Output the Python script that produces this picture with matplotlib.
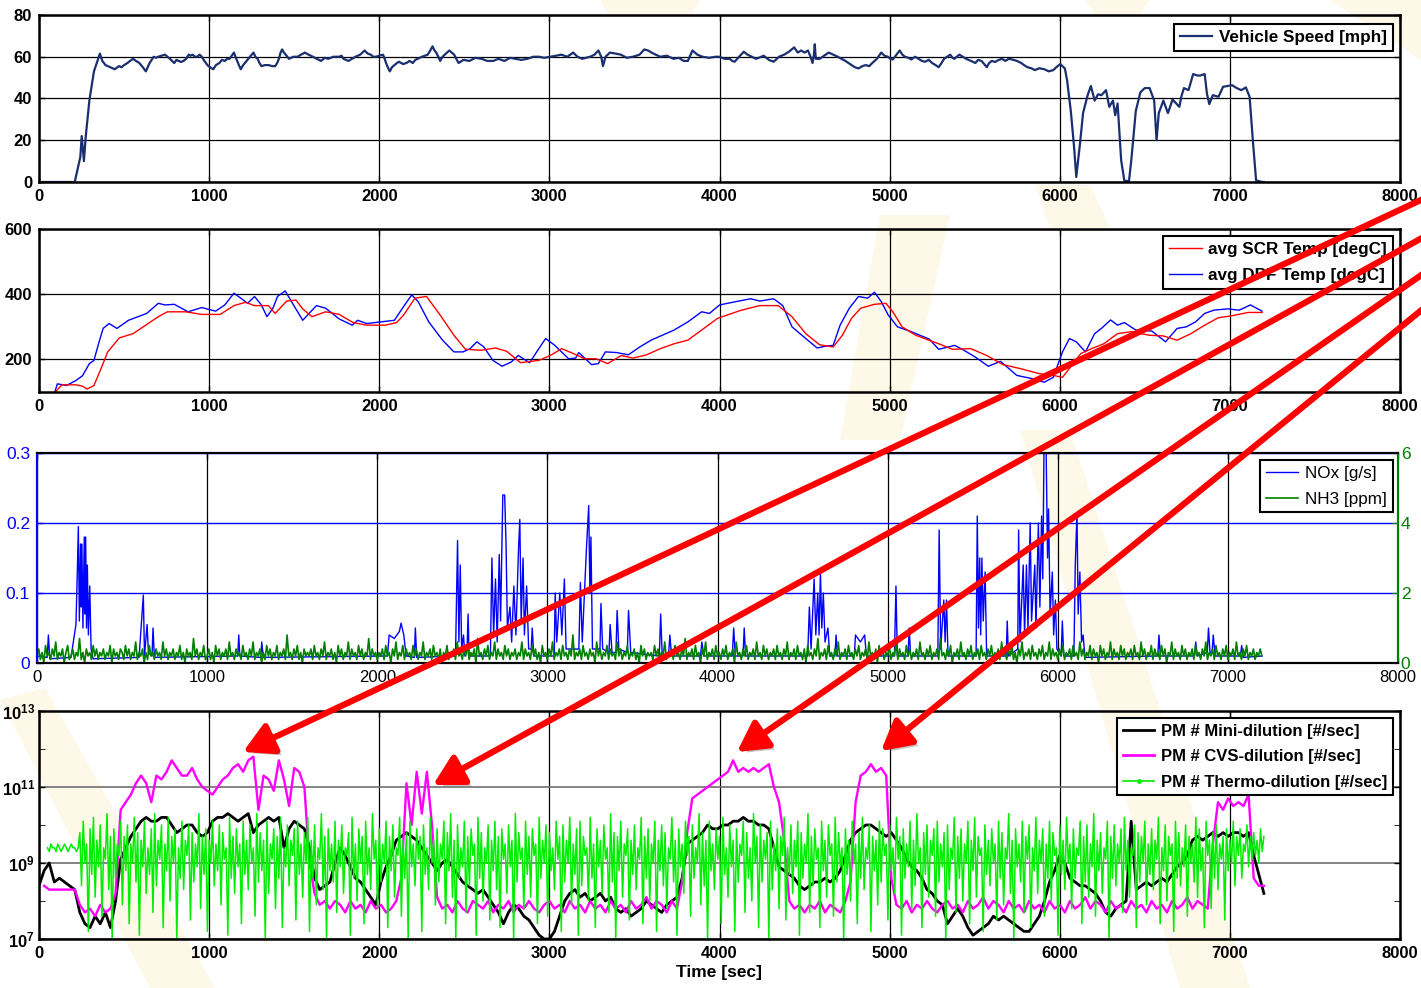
import numpy as np
import matplotlib
matplotlib.use('Agg')
import matplotlib.pyplot as plt
from matplotlib.lines import Line2D
from matplotlib.patches import FancyArrowPatch, Polygon
from matplotlib.ticker import FixedLocator, NullFormatter
import matplotlib.patheffects as pe

plt.rcParams['font.family'] = ['Liberation Sans', 'DejaVu Sans']
plt.rcParams['font.weight'] = 'bold'
plt.rcParams['mathtext.fontset'] = 'custom'
plt.rcParams['mathtext.rm'] = 'Liberation Sans'
plt.rcParams['mathtext.bf'] = 'Liberation Sans:bold'

# ---- data (time [s], value) ----
speed_pts = [(0, 0), (150, 0), (210, 0), (243, 12), (251, 22), (264, 10), (275, 22), (296, 39), (323, 53),
             (358, 61.5), (372, 58), (391, 56), (405, 55.5), (420, 55), (432, 54.5), (445, 54), (470, 55.5),
             (485, 55), (500, 56), (520, 57), (535, 58), (553, 59), (570, 58), (590, 57), (610, 55), (628, 53),
             (650, 57), (674, 60), (688, 59.5), (700, 60), (720, 60.5), (741, 61), (755, 60), (770, 59), (782, 58),
             (795, 57), (808, 58.5), (820, 58), (835, 57.5), (849, 58), (865, 59), (880, 61), (890, 60.5),
             (903, 61), (917, 60), (930, 60), (944, 61), (957, 60), (972, 58), (990, 56), (1005, 55), (1024, 54),
             (1040, 56), (1060, 57), (1075, 58.5), (1092, 58), (1106, 59), (1120, 59), (1133, 60.5), (1146, 62),
             (1155, 60), (1165, 58), (1175, 56), (1186, 54), (1200, 56), (1220, 58), (1240, 60), (1261, 62),
             (1272, 60), (1285, 59), (1296, 57), (1307, 55.5), (1328, 56), (1350, 56), (1370, 55.5), (1388, 55.5),
             (1400, 57), (1410, 59), (1420, 62), (1429, 63.5), (1440, 62), (1450, 61), (1460, 60), (1469, 59),
             (1495, 60), (1520, 60), (1540, 61), (1563, 62), (1585, 61), (1610, 60), (1633, 59), (1658, 58),
             (1680, 59.5), (1700, 59), (1730, 60), (1765, 60), (1778, 60.5), (1790, 59), (1805, 58.5), (1819, 58),
             (1840, 59), (1860, 60), (1888, 61), (1914, 63), (1932, 61.5), (1950, 61), (1965, 60), (1981, 60),
             (2000, 60.5), (2022, 61), (2032, 59), (2040, 57), (2050, 55), (2062, 53), (2075, 55), (2090, 56),
             (2104, 57), (2116, 57.6), (2140, 56.5), (2160, 57), (2178, 58), (2197, 57), (2212, 58.5), (2225, 59),
             (2238, 59.5), (2251, 60), (2268, 60.5), (2285, 61), (2300, 63), (2313, 65), (2325, 63), (2335, 62),
             (2347, 60), (2358, 58), (2372, 60), (2385, 61), (2398, 62), (2412, 63), (2426, 62), (2440, 61),
             (2453, 59), (2466, 57), (2495, 58.5), (2530, 58), (2565, 59.5), (2601, 59), (2635, 58), (2670, 58),
             (2700, 59), (2736, 58), (2770, 59.5), (2800, 59), (2835, 58.5), (2871, 59), (2905, 60), (2940, 60),
             (2970, 59.5), (3005, 60), (3040, 60.5), (3070, 61), (3105, 60), (3140, 62), (3165, 60), (3194, 59),
             (3215, 59.5), (3240, 60), (3265, 61), (3288, 63), (3305, 60), (3315, 55.5), (3330, 60), (3356, 62),
             (3390, 61.5), (3420, 61), (3455, 59.5), (3491, 60), (3530, 61), (3558, 63.5), (3580, 63), (3600, 62),
             (3625, 61), (3652, 60), (3690, 60.5), (3730, 59), (3760, 59.5), (3790, 58), (3814, 58), (3841, 63),
             (3870, 61), (3900, 60), (3940, 59.5), (3976, 60), (4000, 60), (4030, 59), (4060, 59), (4075, 58),
             (4089, 57.6), (4115, 60), (4143, 62.4), (4165, 61), (4190, 60), (4215, 59), (4237, 59.7), (4260, 60.5),
             (4290, 58.5), (4318, 57.6), (4350, 60), (4380, 61), (4410, 62.5), (4439, 64.5), (4460, 62), (4480, 63),
             (4500, 62), (4520, 63), (4535, 60), (4547, 57), (4555, 61), (4560, 66), (4566, 59), (4588, 59),
             (4615, 60.5), (4642, 62), (4668, 61), (4695, 60), (4718, 59), (4740, 58), (4758, 57), (4776, 56),
             (4795, 55), (4817, 54.4), (4840, 55.5), (4860, 56), (4880, 55.5), (4898, 57), (4925, 59), (4951, 62),
             (4970, 60.5), (4990, 60), (5005, 59), (5019, 58.7), (5040, 61), (5059, 63), (5075, 61), (5090, 60),
             (5110, 59.5), (5127, 58.7), (5150, 60), (5170, 59), (5190, 58), (5208, 57.6), (5230, 58.5), (5250, 57),
             (5270, 56), (5288, 55), (5305, 57), (5320, 59), (5338, 60), (5356, 61), (5370, 59.5), (5380, 59),
             (5395, 60), (5410, 61), (5430, 60), (5450, 59), (5478, 58), (5504, 57), (5520, 58.5), (5540, 58),
             (5556, 56.5), (5571, 55), (5585, 57), (5600, 58), (5620, 57.5), (5639, 58.4), (5660, 59), (5680, 58),
             (5700, 59), (5720, 58.7), (5748, 58), (5774, 57), (5790, 56), (5810, 55), (5832, 54.5), (5854, 53.6),
             (5880, 54.5), (5910, 54), (5935, 53), (5962, 53.6), (5980, 55), (6003, 56.5), (6030, 54.4),
             (6043, 48.8), (6065, 34), (6084, 17), (6097, 2.4), (6119, 18.4), (6137, 33), (6164, 41.6), (6183, 46),
             (6205, 39), (6225, 42), (6245, 41.6), (6272, 44), (6291, 36), (6313, 39), (6326, 32), (6340, 37.6),
             (6361, 10.4), (6380, 0.5), (6407, 0.5), (6420, 10), (6447, 34), (6474, 43), (6500, 45), (6528, 45),
             (6555, 39), (6569, 20), (6582, 33), (6609, 39), (6636, 33), (6663, 39.5), (6680, 38), (6703, 36),
             (6715, 41), (6730, 45), (6757, 44), (6784, 51.7), (6810, 51), (6825, 51), (6852, 51.7), (6865, 42.4),
             (6879, 37.3), (6900, 41.6), (6933, 40.8), (6960, 45.6), (7013, 46.4), (7040, 45), (7067, 44),
             (7094, 45.3), (7116, 40.8), (7135, 20), (7154, 0.8), (7189, 0), (7200, 0)]

dpf_pts = [(89, 94), (108, 125), (162, 120), (216, 135), (256, 150), (296, 187), (323, 197), (350, 248),
           (377, 295), (412, 310), (458, 295), (526, 320), (633, 341), (701, 372), (741, 367), (795, 369),
           (876, 346), (957, 359), (1038, 348), (1092, 367), (1146, 403), (1186, 388), (1226, 372), (1267, 393),
           (1307, 367), (1340, 331), (1375, 357), (1402, 393), (1447, 410), (1496, 367), (1550, 320), (1631, 365),
           (1685, 357), (1765, 324), (1841, 305), (1873, 320), (1927, 310), (2008, 315), (2089, 320), (2143, 362),
           (2191, 398), (2229, 377), (2291, 315), (2372, 259), (2439, 223), (2493, 223), (2534, 233), (2574, 254),
           (2615, 238), (2668, 197), (2722, 179), (2776, 192), (2817, 212), (2884, 190), (2938, 233), (2978, 264),
           (3032, 243), (3113, 202), (3154, 204), (3173, 221), (3248, 184), (3288, 187), (3329, 223), (3396, 221),
           (3464, 214), (3531, 238), (3598, 259), (3733, 290), (3814, 315), (3895, 346), (3941, 341), (4000, 367),
           (4075, 375), (4183, 386), (4237, 379), (4318, 386), (4372, 365), (4426, 300), (4507, 264), (4574, 235),
           (4628, 241), (4668, 243), (4709, 305), (4763, 357), (4817, 393), (4871, 388), (4911, 406), (4951, 377),
           (4992, 336), (5046, 300), (5127, 285), (5234, 262), (5288, 231), (5383, 243), (5437, 228), (5504, 207),
           (5580, 179), (5652, 194), (5747, 151), (5828, 142), (5909, 130), (5962, 145), (6016, 223), (6057, 264),
           (6097, 254), (6151, 223), (6205, 279), (6245, 295), (6299, 321), (6340, 305), (6380, 313), (6447, 290),
           (6541, 287), (6622, 254), (6690, 295), (6744, 300), (6798, 315), (6852, 341), (6906, 351), (6987, 355),
           (7054, 351), (7121, 367), (7189, 348)]

scr_pts = [(94, 99), (135, 122), (216, 122), (256, 118), (283, 109), (323, 120), (364, 171), (404, 223),
           (472, 266), (553, 279), (633, 307), (701, 331), (755, 346), (862, 346), (957, 338), (1065, 338),
           (1146, 365), (1213, 375), (1267, 365), (1348, 365), (1388, 341), (1456, 379), (1510, 382), (1550, 355),
           (1604, 331), (1685, 346), (1765, 338), (1846, 313), (1927, 305), (2035, 305), (2102, 313), (2143, 336),
           (2210, 388), (2278, 393), (2358, 336), (2439, 274), (2507, 231), (2601, 228), (2682, 235), (2749, 225),
           (2830, 190), (2938, 197), (3005, 212), (3073, 233), (3140, 218), (3208, 202), (3275, 202), (3342, 187),
           (3423, 212), (3491, 204), (3571, 214), (3652, 233), (3733, 248), (3814, 259), (3895, 290), (3989, 326),
           (4129, 351), (4237, 365), (4345, 365), (4426, 331), (4507, 279), (4588, 245), (4668, 238), (4722, 274),
           (4776, 326), (4830, 357), (4911, 369), (4978, 372), (5019, 346), (5073, 300), (5154, 274), (5288, 248),
           (5369, 231), (5477, 233), (5571, 212), (5666, 184), (5774, 171), (5882, 156), (5962, 151), (6016, 145),
           (6070, 181), (6124, 218), (6178, 231), (6259, 248), (6340, 279), (6420, 285), (6528, 274), (6609, 272),
           (6690, 259), (6771, 279), (6852, 305), (6933, 328), (7013, 334), (7108, 344), (7189, 344)]

nox_pts = [(0, 0.01), (60, 0.008), (67, 0.04), (75, 0.006), (200, 0.008), (229, 0.055), (237, 0.13), (243, 0.195),
           (249, 0.06), (256, 0.17), (260, 0.08), (264, 0.17), (270, 0.05), (278, 0.18), (282, 0.07), (286, 0.18),
           (291, 0.05), (296, 0.14), (302, 0.04), (310, 0.11), (318, 0.02), (330, 0.006), (600, 0.008),
           (625, 0.097), (632, 0.01), (647, 0.055), (655, 0.015), (676, 0.01), (682, 0.05), (690, 0.008),
           (1180, 0.01), (1186, 0.04), (1192, 0.01), (1315, 0.008), (1321, 0.03), (1330, 0.008), (2060, 0.01),
           (2070, 0.04), (2100, 0.035), (2130, 0.045), (2140, 0.057), (2156, 0.04), (2170, 0.01), (2218, 0.008),
           (2224, 0.05), (2232, 0.008), (2460, 0.01), (2472, 0.175), (2480, 0.03), (2488, 0.14), (2496, 0.02),
           (2507, 0.04), (2515, 0.01), (2528, 0.02), (2534, 0.07), (2540, 0.01), (2665, 0.01), (2674, 0.15),
           (2684, 0.04), (2695, 0.12), (2705, 0.03), (2717, 0.155), (2725, 0.06), (2738, 0.24), (2749, 0.24),
           (2757, 0.17), (2765, 0.05), (2780, 0.08), (2790, 0.03), (2803, 0.11), (2815, 0.04), (2830, 0.16),
           (2838, 0.205), (2846, 0.06), (2857, 0.15), (2865, 0.04), (2878, 0.11), (2890, 0.02), (2905, 0.02),
           (2911, 0.05), (2920, 0.01), (3040, 0.01), (3046, 0.1), (3055, 0.03), (3073, 0.1), (3085, 0.04),
           (3100, 0.12), (3110, 0.02), (3185, 0.02), (3194, 0.115), (3205, 0.03), (3229, 0.16), (3243, 0.225),
           (3250, 0.1), (3256, 0.18), (3265, 0.02), (3309, 0.02), (3315, 0.085), (3325, 0.02), (3362, 0.015),
           (3369, 0.055), (3380, 0.015), (3403, 0.015), (3410, 0.075), (3420, 0.02), (3470, 0.015), (3477, 0.075),
           (3490, 0.015), (3658, 0.01), (3666, 0.07), (3675, 0.01), (3712, 0.01), (3720, 0.04), (3730, 0.01),
           (3900, 0.01), (3908, 0.03), (3920, 0.01), (4087, 0.01), (4095, 0.05), (4105, 0.01), (4150, 0.01),
           (4157, 0.05), (4165, 0.01), (4530, 0.01), (4540, 0.08), (4550, 0.02), (4568, 0.12), (4578, 0.04),
           (4589, 0.1), (4597, 0.04), (4605, 0.13), (4613, 0.05), (4622, 0.1), (4632, 0.03), (4649, 0.05),
           (4660, 0.01), (4690, 0.01), (4697, 0.04), (4705, 0.01), (4804, 0.01), (4811, 0.04), (4840, 0.03),
           (4865, 0.04), (4875, 0.01), (5040, 0.01), (5049, 0.11), (5057, 0.01), (5120, 0.01), (5127, 0.05),
           (5135, 0.01), (5295, 0.01), (5303, 0.19), (5312, 0.02), (5330, 0.09), (5338, 0.03), (5346, 0.09),
           (5355, 0.01), (5520, 0.01), (5527, 0.21), (5534, 0.05), (5541, 0.15), (5547, 0.04), (5554, 0.15),
           (5562, 0.06), (5573, 0.13), (5582, 0.01), (5697, 0.01), (5703, 0.06), (5710, 0.01), (5765, 0.02),
           (5770, 0.19), (5778, 0.03), (5797, 0.14), (5805, 0.04), (5816, 0.14), (5825, 0.05), (5838, 0.2),
           (5846, 0.06), (5865, 0.14), (5872, 0.05), (5886, 0.2), (5895, 0.08), (5905, 0.21), (5912, 0.12),
           (5919, 0.3), (5932, 0.3), (5940, 0.15), (5946, 0.22), (5955, 0.07), (5968, 0.13), (5976, 0.04),
           (5986, 0.09), (5995, 0.02), (6020, 0.01), (6027, 0.06), (6035, 0.01), (6095, 0.01), (6103, 0.14),
           (6113, 0.215), (6120, 0.07), (6130, 0.13), (6140, 0.03), (6149, 0.04), (6160, 0.008), (6588, 0.01),
           (6595, 0.04), (6603, 0.01), (6804, 0.01), (6811, 0.03), (6820, 0.01), (6879, 0.015), (6886, 0.05),
           (6895, 0.015), (6907, 0.015), (6914, 0.04), (6925, 0.01), (7074, 0.01), (7081, 0.025), (7090, 0.008),
           (7200, 0.01)]

# NH3 in tenths of ppm, one value every 10 s from t=0
nh3_step = 10
nh3_tenths = [2, 4, 1, 3, 0, 5, 2, 3, 1, 4, 2, 6, 1, 3, 2, 4, 0, 3, 5, 1, 2, 4, 1, 3, 2, 7, 1, 3, 0, 4, 2, 3, 1, 5, 2, 4, 1, 3, 2, 4,
              1, 3, 2, 5, 0, 4, 2, 3, 1, 4, 3, 1, 5, 2, 4, 1, 3, 2, 6, 1, 3, 2, 4, 0, 3, 1, 5, 2, 3, 1, 4, 2, 3, 1, 6, 2, 4, 1, 3, 2,
              4, 1, 3, 2, 5, 1, 3, 0, 4, 2, 3, 1, 7, 2, 4, 1, 3, 2, 5, 1, 2, 4, 1, 3, 0, 5, 2, 4, 1, 3, 2, 4, 1, 6, 2, 3, 1, 4, 2, 3,
              1, 5, 2, 3, 1, 4, 2, 6, 1, 3, 2, 4, 0, 3, 1, 5, 2, 4, 1, 3, 2, 5, 1, 3, 2, 4, 1, 8, 2, 3, 1, 4, 2, 5, 1, 3, 0, 4, 2, 3,
              2, 4, 1, 5, 2, 3, 1, 4, 2, 6, 1, 3, 2, 4, 1, 3, 0, 5, 2, 4, 1, 3, 2, 6, 1, 4, 2, 3, 1, 5, 2, 4, 1, 3, 2, 7, 1, 4, 2, 3,
              1, 3, 2, 4, 1, 5, 2, 3, 0, 4, 2, 6, 1, 3, 2, 5, 1, 4, 2, 3, 1, 5, 2, 4, 1, 3, 2, 6, 1, 3, 2, 4, 1, 5, 2, 3, 1, 4, 0, 3,
              2, 5, 1, 3, 2, 4, 1, 6, 2, 3, 1, 4, 2, 5, 1, 3, 2, 4, 0, 7, 2, 3, 1, 4, 2, 5, 1, 3, 2, 6, 1, 4, 2, 3, 1, 5, 2, 4, 1, 3,
              2, 4, 1, 3, 2, 6, 1, 4, 2, 3, 1, 5, 2, 4, 1, 3, 0, 5, 2, 3, 1, 4, 2, 6, 1, 3, 2, 4, 1, 5, 2, 3, 1, 4, 2, 8, 1, 3, 2, 4,
              1, 5, 2, 3, 1, 4, 2, 3, 0, 6, 2, 4, 1, 3, 2, 5, 1, 4, 2, 3, 1, 6, 2, 4, 1, 3, 2, 5, 1, 3, 2, 4, 1, 3, 0, 5, 2, 4, 1, 3,
              2, 3, 1, 5, 2, 4, 1, 3, 2, 6, 1, 3, 2, 4, 1, 5, 2, 3, 1, 4, 2, 7, 1, 3, 2, 4, 1, 5, 2, 3, 0, 4, 2, 6, 1, 3, 2, 4, 1, 5,
              2, 3, 1, 4, 2, 5, 1, 3, 2, 4, 0, 6, 2, 3, 1, 4, 2, 5, 1, 3, 2, 4, 1, 6, 2, 3, 1, 5, 2, 4, 1, 3, 2, 4, 1, 5, 2, 3, 1, 4,
              2, 6, 1, 3, 2, 4, 1, 5, 2, 3, 1, 4, 0, 5, 2, 3, 1, 4, 2, 7, 1, 3, 2, 4, 1, 5, 2, 3, 1, 4, 2, 6, 1, 3, 2, 4, 1, 5, 2, 3,
              1, 4, 2, 5, 1, 3, 2, 4, 1, 6, 2, 3, 1, 4, 0, 5, 2, 4, 1, 3, 2, 5, 1, 3, 2, 6, 1, 4, 2, 3, 1, 5, 2, 4, 1, 3, 2, 4, 1, 6,
              2, 3, 1, 4, 2, 5, 1, 3, 2, 4, 1, 7, 2, 3, 1, 4, 2, 5, 0, 3, 2, 4, 1, 6, 2, 3, 1, 4, 2, 5, 1, 3, 2, 4, 1, 5, 2, 3, 1, 4,
              2, 5, 1, 3, 2, 4, 1, 6, 2, 3, 1, 4, 2, 5, 1, 3, 0, 4, 2, 6, 1, 3, 2, 4, 1, 5, 2, 3, 1, 4, 2, 5, 1, 3, 2, 6, 1, 4, 2, 3,
              1, 4, 2, 5, 1, 3, 2, 4, 1, 5, 2, 3, 1, 6, 2, 4, 1, 3, 2, 5, 1, 4, 2, 3, 0, 5, 2, 4, 1, 3, 2, 6, 1, 4, 2, 3, 1, 5, 2, 4,
              1, 3, 2, 4, 1, 5, 2, 3, 1, 6, 2, 4, 1, 3, 2, 5, 1, 4, 2, 3, 1, 5, 2, 4, 0, 3, 2, 6, 1, 4, 2, 3, 1, 5, 2, 4, 1, 3, 2, 4,
              1, 5, 2, 3, 1, 4, 2, 6, 1, 3, 2, 4, 1, 5, 2, 3, 1, 4, 2, 5, 1, 3, 2, 4, 1, 6, 2, 3, 1, 4, 2, 5, 1, 3, 2, 4, 1, 3, 2, 4,
              2]

# PM counts as 10*log10(#/sec)
mini_t0, mini_step = 0, 30
mini_log10x = [84, 88, 90, 85, 86, 85, 84, 83, 77, 74,
               73, 76, 74, 77, 73, 80, 91, 94, 97, 99,
               101, 102, 101, 101, 102, 102, 100, 98, 99, 100,
               100, 98, 97, 98, 101, 102, 102, 103, 102, 101,
               102, 103, 98, 100, 101, 102, 101, 102, 94, 99,
               101, 100, 99, 94, 86, 83, 84, 85, 90, 94,
               92, 89, 86, 85, 83, 81, 79, 85, 89, 92,
               96, 97, 98, 97, 96, 94, 92, 90, 88, 90,
               91, 89, 87, 85, 84, 83, 82, 83, 81, 79,
               77, 74, 77, 79, 78, 76, 75, 73, 71, 70,
               70, 72, 76, 80, 82, 83, 81, 82, 80, 81,
               82, 80, 81, 78, 77, 78, 76, 77, 78, 80,
               79, 78, 77, 79, 80, 81, 86, 95, 96, 97,
               98, 100, 99, 99, 100, 100, 101, 101, 102, 101,
               101, 100, 100, 99, 94, 89, 88, 87, 86, 84,
               83, 84, 85, 85, 86, 85, 86, 88, 92, 96,
               98, 99, 100, 100, 99, 98, 97, 98, 96, 94,
               91, 89, 88, 86, 83, 82, 80, 79, 74, 76,
               78, 76, 73, 71, 72, 73, 74, 76, 75, 76,
               75, 74, 73, 72, 72, 74, 76, 80, 85, 88,
               92, 90, 86, 85, 84, 84, 83, 82, 80, 77,
               76, 78, 79, 80, 101, 83, 84, 85, 84, 85,
               86, 85, 87, 89, 90, 92, 96, 97, 96, 97,
               98, 97, 98, 97, 98, 98, 97, 98, 92, 87,
               82]

cvs_t0, cvs_step = 30, 30
cvs_log10x = [84, 83, 83, 83, 83, 83, 83,
              79, 77, 78, 76, 79, 77, 78, 82,
              104, 106, 108, 111, 113, 111, 106, 113, 112, 114, 117, 115, 113, 113, 115, 112, 110, 109, 108,
              110, 112, 113, 115, 116, 114, 117, 118, 104, 113, 112, 109, 117, 112, 105, 115, 114, 110,
              90, 82,
              79, 80, 78, 80, 79, 77, 80, 78, 79, 77, 80, 78, 79, 77, 78, 80,
              86, 111, 100, 114, 103, 114, 100,
              81, 78, 79, 77, 80, 78, 77, 80, 79, 78, 80, 77, 79, 78, 80, 77,
              79, 78, 80, 78, 77, 79, 80, 78, 79, 77, 80, 78, 79, 77, 80, 78,
              79, 77, 80, 78, 79, 77, 80, 78, 79, 81, 78, 80, 79, 77, 80, 78,
              85, 98, 107, 108, 109, 110, 111, 112, 113, 114, 117, 114, 115, 114, 115, 114, 115, 116, 110, 106,
              96,
              80, 78, 79, 77, 79, 78, 80, 77, 79, 78, 77, 80, 85,
              106, 113, 114, 116, 114, 115, 113,
              86,
              79, 78, 80, 77, 79, 78, 80, 78, 77, 79, 80, 78, 79, 77, 80, 78, 79, 81, 78, 80,
              79, 77, 80, 78, 79, 77, 80, 78, 79, 77, 80, 78, 79, 77, 80, 78, 79, 81, 78, 80,
              79, 77, 80, 78, 79, 77, 80, 78, 79, 77, 80, 78, 79, 77, 80, 78, 79, 81, 78, 80,
              79, 78,
              95, 106, 104, 107, 105, 106, 105, 108, 86, 84, 84]

thermo_t0, thermo_step = 50, 10
thermo_log10x = [94, 93, 95, 94, 94, 93, 95, 94, 93, 94, 95, 94, 93, 94, 95, 94, 94, 93, 94,
                 98, 84, 101, 90, 95, 72, 99, 87, 102, 81, 96, 89, 100, 76, 94, 91, 103, 83, 97, 70, 99, 86, 95, 92, 101,
                 79, 97, 88, 100, 74, 95, 90, 102, 85, 98, 71, 96, 89, 101, 82, 94, 87, 99, 77, 103, 84, 96, 91, 100, 73,
                 95, 88, 102, 80, 97, 90, 99, 70, 94, 86, 101, 83, 96, 92, 100, 75, 98, 85, 95, 89, 103, 78, 97, 87, 99,
                 72, 96, 90, 101, 84, 95, 88, 100, 79, 98, 91, 94, 71, 102, 86, 97, 82, 99, 89, 95, 74, 101, 87, 96, 83,
                 100, 90, 94, 76, 103, 85, 98, 88, 96, 70, 101, 82, 95, 91, 99, 78, 97, 86, 102, 73, 94, 89, 100, 84, 96,
                 92, 99, 75, 101, 87, 95, 81, 98, 90, 102, 72, 96, 86, 100, 79, 94, 91, 103, 83, 97, 70, 99, 88, 95, 85,
                 101, 77, 96, 89, 100, 82, 94, 92, 98, 71, 102, 86, 95, 80, 99, 90, 97, 74, 101, 87, 94, 83, 103, 91, 96,
                 78, 99, 85, 95, 90, 101, 73, 97, 88, 100, 81, 94, 92, 102, 76, 96, 86, 98, 70, 101, 89, 95, 84, 99, 91,
                 97, 72, 100, 87, 94, 83, 102, 90, 96, 79, 99, 85, 95, 91, 101, 74, 98, 88, 103, 81, 96, 70, 100, 86, 94,
                 89, 101, 77, 97, 84, 99, 92, 95, 71, 102, 86, 98, 80, 94, 90, 100, 75, 96, 88, 101, 83, 97, 73, 99, 91,
                 95, 82, 100, 89, 96, 70, 103, 85, 98, 91, 94, 78, 101, 87, 97, 81, 99, 92, 95, 74, 102, 86, 96, 90, 100,
                 76, 98, 88, 94, 83, 101, 91, 97, 72, 100, 85, 96, 90, 102, 79, 95, 87, 99, 71, 101, 84, 97, 92, 94, 80,
                 102, 86, 95, 73, 99, 89, 96, 82, 100, 91, 94, 77, 103, 85, 98, 70, 97, 88, 101, 81, 95, 92, 99, 75, 96,
                 87, 100, 83, 94, 91, 102, 74, 97, 86, 99, 80, 95, 90, 101, 72, 96, 88, 100, 84, 98, 78, 94, 91, 102, 85,
                 96, 71, 99, 89, 95, 82, 101, 92, 97, 76, 100, 86, 94, 90, 103, 79, 98, 84, 96, 70, 101, 88, 95, 83, 99,
                 91, 97, 74, 102, 87, 94, 81, 100, 89, 96, 72, 99, 85, 95, 92, 101, 77, 98, 86, 94, 80, 103, 90, 97, 73,
                 100, 85, 96, 91, 98, 70, 101, 83, 95, 88, 99, 78, 97, 92, 102, 75, 94, 87, 100, 82, 96, 89, 101, 71, 98,
                 86, 95, 90, 103, 77, 97, 84, 99, 91, 94, 73, 101, 88, 96, 81, 100, 92, 95, 76, 102, 85, 98, 89, 94, 70,
                 99, 87, 96, 80, 101, 90, 95, 74, 98, 86, 102, 83, 94, 91, 100, 72, 97, 88, 96, 79, 101, 85, 99, 92, 95,
                 75, 100, 88, 94, 82, 102, 91, 97, 71, 99, 86, 95, 89, 101, 78, 96, 84, 103, 90, 94, 73, 98, 87, 100, 81,
                 96, 92, 99, 76, 101, 85, 95, 89, 98, 70, 100, 83, 94, 91, 102, 77, 97, 86, 99, 80, 95, 90, 101, 74, 96,
                 88, 102, 81, 97, 92, 94, 72, 100, 87, 96, 84, 99, 90, 95, 75, 101, 86, 98, 79, 94, 91, 103, 82, 96, 70,
                 99, 89, 95, 85, 101, 77, 97, 91, 100, 73, 94, 88, 102, 82, 96, 90, 99, 76, 95, 86, 101, 80, 98, 92, 94,
                 71, 100, 87, 96, 83, 102, 90, 95, 78, 99, 86, 94, 92, 101, 74, 97, 85, 100, 81, 95, 89, 103, 76, 96, 88,
                 98, 82, 94, 91, 101, 70, 97, 86, 100, 84, 95, 90, 99, 77, 102, 88, 96, 81, 94, 92, 100, 73, 98, 85, 97,
                 90, 101, 79, 95, 87, 99, 83, 96, 91, 102, 74, 94, 88, 100, 80, 97, 92, 95, 72, 101, 86, 98, 84, 94, 89,
                 100, 76, 97, 90, 95, 85, 102, 81, 99, 88, 94, 73, 101, 92, 96, 78, 98, 86, 100, 83, 95, 91, 97, 75, 99,
                 88, 96, 90, 101, 84, 97, 92, 99, 86, 95, 93, 100, 89, 97, 91, 98, 92, 96, 90, 99, 93, 97]

# ---- figure ----
W, H = 1421, 988
fig = plt.figure(figsize=(W / 100, H / 100), dpi=100)


def box(l, t, r, b):
    return [l / W, 1 - b / H, (r - l) / W, (b - t) / H]


def fxy(x, y):
    return (x / W, 1 - y / H)


# faint background watermark stripes
stripes = [[(0, 700), (45, 688), (215, 988), (150, 988)],
           [(1330, 0), (1421, 0), (1421, 60)],
           [(600, 0), (700, 0), (690, 16), (610, 16)],
           [(1085, 0), (1150, 0), (1140, 14), (1095, 14)],
           [(1035, 185), (1090, 185), (1110, 228), (1050, 228)],
           [(880, 215), (950, 215), (900, 440), (840, 440)],
           [(1020, 430), (1070, 430), (1250, 988), (1180, 988)]]
for s in stripes:
    fig.patches.append(Polygon([fxy(x, y) for x, y in s], closed=True, transform=fig.transFigure,
                               facecolor='#fef8e8', edgecolor='none', zorder=-5))


def style(ax, bold=True):
    ax.set_facecolor('none')
    ax.set_xlim(0, 8000)
    ax.set_xticks(range(0, 8001, 1000))
    ax.tick_params(direction='in', length=4, width=1, top=True, right=True, labelsize=12, pad=5)
    for s in ax.spines.values():
        s.set_linewidth(1.8)
    if not bold:
        plt.setp(ax.get_xticklabels() + ax.get_yticklabels(), fontweight='normal')


leg_kw = dict(frameon=True, fancybox=False, edgecolor='black', framealpha=1, borderpad=0.35,
              handlelength=1.9, handletextpad=0.4, labelspacing=0.62, borderaxespad=0)

# 1: vehicle speed
ax1 = fig.add_axes(box(39, 15, 1400, 182))
t, v = zip(*speed_pts)
ax1.plot(t, v, color='#1a2f70', lw=1.6, label='Vehicle Speed [mph]')
ax1.set_ylim(0, 80)
ax1.set_yticks(range(0, 81, 20))
style(ax1)
ax1.grid(True, color='black', lw=0.9)
leg = ax1.legend(loc='upper right', bbox_to_anchor=(0.995, 0.946), prop={'weight': 'bold', 'size': 12.3}, **leg_kw)
leg.get_frame().set_linewidth(1.5)

# 2: temperatures
ax2 = fig.add_axes(box(39, 229, 1400, 392))
t, v = zip(*dpf_pts)
l_dpf, = ax2.plot(t, v, color='#0000ff', lw=1.0, label='avg DPF Temp [degC]')
t, v = zip(*scr_pts)
l_scr, = ax2.plot(t, v, color='#ff0000', lw=1.0, label='avg SCR Temp [degC]')
ax2.set_ylim(100, 600)
ax2.set_yticks([200, 400, 600])
style(ax2)
ax2.grid(True, color='black', lw=0.9)
leg = ax2.legend(handles=[l_scr, l_dpf], loc='upper right', bbox_to_anchor=(0.995, 0.957),
                 prop={'weight': 'bold', 'size': 12.3}, **leg_kw)
leg.get_frame().set_linewidth(1.5)

# 3: NOx / NH3
ax3 = fig.add_axes(box(37, 453, 1398, 663))
t, v = zip(*nox_pts)
l_nox, = ax3.plot(t, v, color='#0000ff', lw=1.0, label='NOx [g/s]')
ax3.set_ylim(0, 0.3)
ax3.set_yticks([0, 0.1, 0.2, 0.3])
ax3.set_yticklabels(['0', '0.1', '0.2', '0.3'])
style(ax3, bold=False)
ax3.tick_params(right=False)
ax3.tick_params(axis='y', colors='#0000ff', labelsize=12.5)
ax3.xaxis.grid(True, color='black', lw=0.9)
ax3.yaxis.grid(True, color='#0000ff', lw=1.0)
ax3b = ax3.twinx()
ax3b.set_facecolor('none')
nh3_t = np.arange(len(nh3_tenths)) * nh3_step
l_nh3, = ax3b.plot(nh3_t, np.array(nh3_tenths) / 10.0, color='#007f00', lw=1.2, label='NH3 [ppm]')
ax3b.set_ylim(0, 6)
ax3b.set_yticks([0, 2, 4, 6])
ax3b.tick_params(axis='y', direction='in', length=4, colors='#008000', labelsize=12.5, pad=2)
plt.setp(ax3b.get_yticklabels(), fontweight='normal')
for a in (ax3, ax3b):
    a.spines['left'].set_color('#0000ff')
    a.spines['right'].set_color('#008000')
    for s in a.spines.values():
        s.set_linewidth(1.5)
leg = ax3b.legend(handles=[l_nox, l_nh3], loc='upper right', bbox_to_anchor=(0.9963, 0.967),
                  prop={'weight': 'normal', 'size': 12.3}, **leg_kw)
leg.get_frame().set_linewidth(1.5)

# 4: PM number
ax4 = fig.add_axes(box(39, 711, 1400, 939))
mini_t = mini_t0 + np.arange(len(mini_log10x)) * mini_step
cvs_t = cvs_t0 + np.arange(len(cvs_log10x)) * cvs_step
thermo_t = thermo_t0 + np.arange(len(thermo_log10x)) * thermo_step
ax4.plot(mini_t, 10 ** (np.array(mini_log10x) / 10.0), color='black', lw=2.0)
ax4.plot(cvs_t, 10 ** (np.array(cvs_log10x) / 10.0), color='#ff00ff', lw=1.7)
ax4.plot(thermo_t, 10 ** (np.array(thermo_log10x) / 10.0), color='#00ee00', lw=1.1)
ax4.set_yscale('log')
ax4.set_ylim(1e7, 1e13)
ax4.set_yticks([1e7, 1e9, 1e11, 1e13])
ax4.set_yticklabels([r'$\mathbf{10^{7}}$', r'$\mathbf{10^{9}}$', r'$\mathbf{10^{11}}$', r'$\mathbf{10^{13}}$'],
                    fontsize=15)
ax4.yaxis.set_minor_locator(FixedLocator([1e8, 1e10, 1e12]))
ax4.yaxis.set_minor_formatter(NullFormatter())
style(ax4)
ax4.tick_params(axis='y', which='major', pad=3)
ax4.tick_params(which='minor', direction='in', length=4, right=True)
ax4.xaxis.grid(True, color='black', lw=0.9)
ax4.yaxis.grid(True, which='major', color='#707070', lw=1.2)
ax4.set_xlabel('Time [sec]', fontsize=12.5, fontweight='bold', labelpad=3)
handles = [Line2D([], [], color='black', lw=2),
           Line2D([], [], color='#ff00ff', lw=2),
           Line2D([], [], color='#00ee00', lw=1.2, marker='.', markersize=5)]
labels = ['PM # Mini-dilution [#/sec]', 'PM # CVS-dilution [#/sec]', 'PM # Thermo-dilution [#/sec]']
leg = ax4.legend(handles, labels, loc='upper right', bbox_to_anchor=(0.995, 0.969), numpoints=1,
                 prop={'weight': 'bold', 'size': 12}, **leg_kw)
leg.get_frame().set_linewidth(1.5)

# red call-out arrows (figure pixel positions)
arrows = [((1440, 191), (243, 752)),
          ((1440, 228), (433, 785)),
          ((1440, 262), (737, 752)),
          ((1440, 295), (881, 751))]
for (x0, y0), (x1, y1) in arrows:
    a = FancyArrowPatch(fxy(x0, y0), fxy(x1, y1), transform=fig.transFigure,
                        arrowstyle='-|>,head_length=0.6,head_width=0.33', mutation_scale=30,
                        color='#ff0000', lw=4.5, shrinkA=0, shrinkB=0, zorder=10,
                        path_effects=[pe.SimplePatchShadow(offset=(3, -3), shadow_rgbFace='#555555', alpha=0.35),
                                      pe.Normal()])
    fig.patches.append(a)

fig.savefig('out.png', dpi=100)
